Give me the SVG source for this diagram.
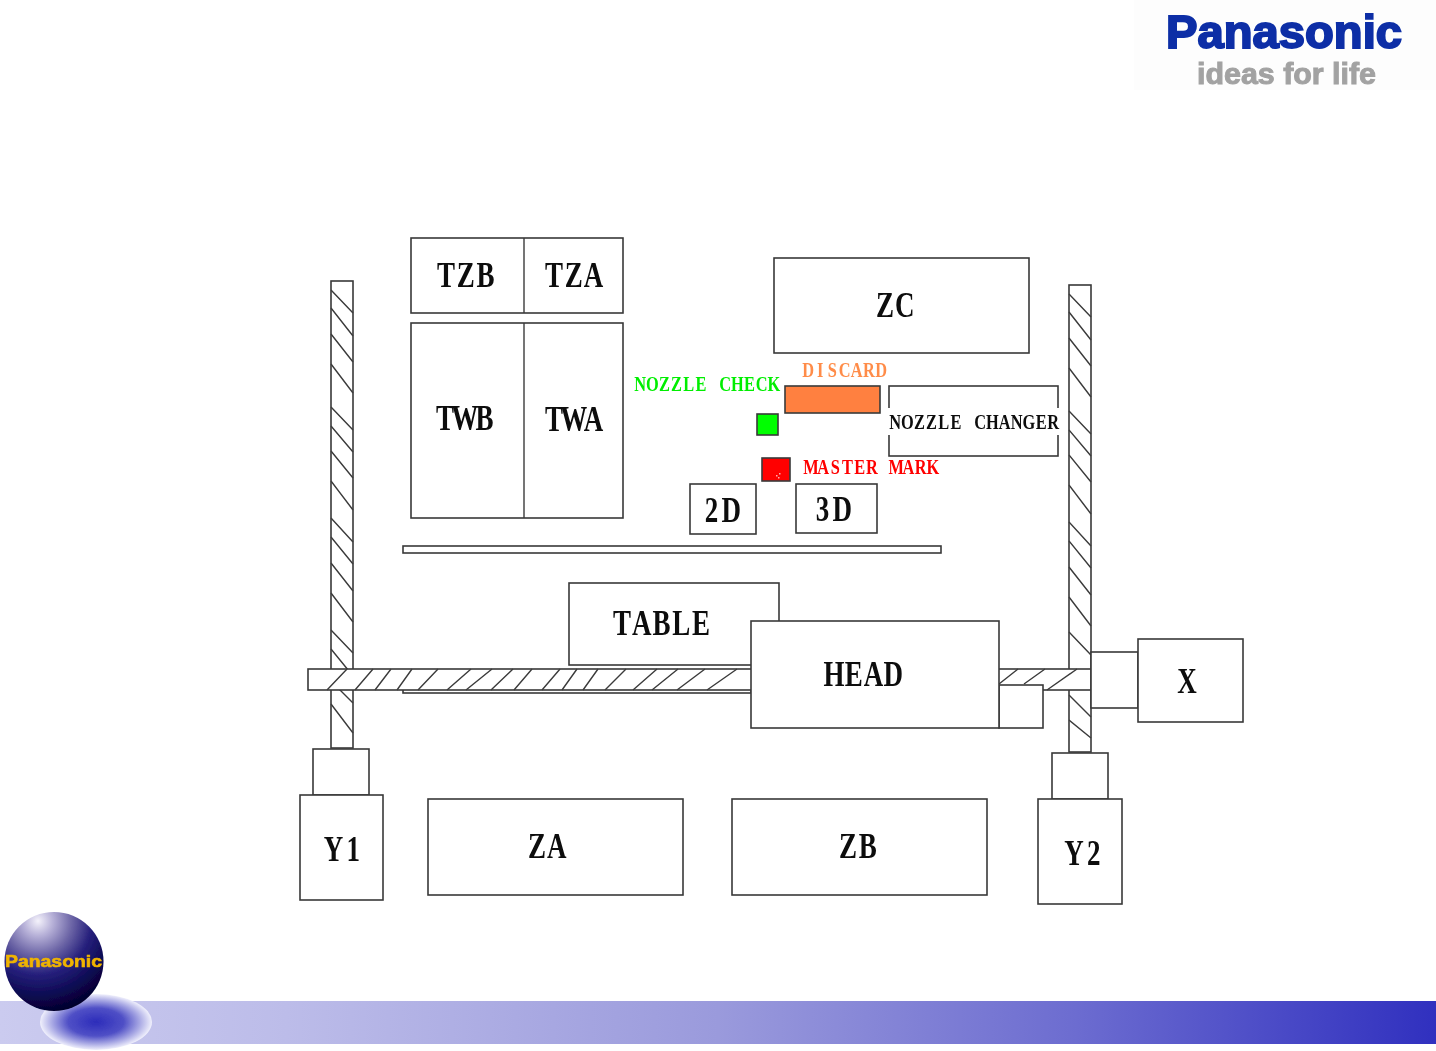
<svg xmlns="http://www.w3.org/2000/svg" width="1436" height="1051" viewBox="0 0 1436 1051">
<style>
.b{fill:#fff;stroke:#3a3a3a;stroke-width:1.6}
.h{fill:none;stroke:#3a3a3a;stroke-width:1.4}
.t{font-family:"Liberation Serif",serif;font-weight:bold;font-size:36px;fill:#0a0a0a;text-anchor:middle}
.s{font-family:"Liberation Serif",serif;font-weight:bold;font-size:21px;text-anchor:middle}
</style>
<defs>
<filter id="soft" x="0" y="0" width="1436" height="1051" filterUnits="userSpaceOnUse"><feGaussianBlur stdDeviation="0.4"/></filter>
<filter id="soft2" x="0" y="0" width="1436" height="1051" filterUnits="userSpaceOnUse"><feGaussianBlur stdDeviation="0.7"/></filter>
<linearGradient id="band" x1="0" x2="1" y1="0" y2="0"><stop offset="0" stop-color="#cbcbef"/><stop offset="0.2" stop-color="#bcbce9"/><stop offset="0.5" stop-color="#9a9adc"/><stop offset="0.75" stop-color="#6c6cd0"/><stop offset="1" stop-color="#3030bf"/></linearGradient>
<radialGradient id="sph" gradientUnits="userSpaceOnUse" cx="38" cy="921" r="92" fx="38" fy="921"><stop offset="0" stop-color="#f4f2fb"/><stop offset="0.16" stop-color="#b7b1d8"/><stop offset="0.36" stop-color="#6f68a8"/><stop offset="0.58" stop-color="#26207c"/><stop offset="0.82" stop-color="#0b0850"/><stop offset="1" stop-color="#04022c"/></radialGradient>
<radialGradient id="shd"><stop offset="0" stop-color="#2c2cba"/><stop offset="0.5" stop-color="#5050c6"/><stop offset="0.78" stop-color="#a8a8e4"/><stop offset="1" stop-color="#f0f0fc"/></radialGradient>
</defs>
<rect width="1436" height="1051" fill="#fff"/>
<rect id="band-rect" x="0" y="1001" width="1436" height="43" fill="url(#band)"/>
<g id="diagram" filter="url(#soft)">
<g id="rail-left">
<rect class="b" x="331" y="281" width="22" height="467"/>
<path class="h" d="M331 290L353 313M331 308L353 336M331 334L353 362M331 364L353 393M331 407L353 430M331 426L353 452M331 451L353 478M331 481L353 510M331 518L353 542M331 537L353 564M331 563L353 591M331 593L353 622M331 630L353 653M331 649L353 676M331 681L353 703M331 704L353 733"/>
</g>
<g id="rail-right">
<rect class="b" x="1069" y="285" width="22" height="467"/>
<path class="h" d="M1069 294L1091 317M1069 312L1091 340M1069 338L1091 366M1069 368L1091 397M1069 411L1091 434M1069 430L1091 456M1069 455L1091 482M1069 485L1091 514M1069 522L1091 546M1069 541L1091 568M1069 567L1091 595M1069 597L1091 626M1069 632L1091 655M1069 695L1091 717M1069 720L1091 738"/>
</g>
<g id="plate-top"><rect class="b" x="403" y="546" width="538" height="7"/></g>
<g id="plate-low"><rect class="b" x="403" y="688" width="348" height="5"/></g>
<g id="table"><rect class="b" x="569" y="583" width="210" height="82"/><text class="t" transform="translate(612,635) scale(.75,1)" x="13.2 39.6 66 92.4 118.8">TABLE</text></g>
<g id="rail-x">
<rect class="b" x="308" y="669" width="783" height="21"/>
<path class="h" d="M327 690L347 669M355 690L373 669M375 690L391 669M397 690L412 669M418 690L438 669M447 690L471 669M466 690L492 669M491 690L513 669M514 690L532 669M542 690L560 669M562 690L577 669M583 690L598 669M605 690L626 669M633 690L657 669M652 690L678 669M677 690L705 669M707 690L737 669M999 684L1018 669M1024 684L1045 669M1047 690L1077 669"/>
</g>
<g id="tz">
<rect class="b" x="411" y="238" width="212" height="75"/>
<line class="h" x1="524" y1="238" x2="524" y2="313"/>
<text class="t" transform="translate(436,287) scale(.75,1)" x="13.2 39.6 66">TZB</text>
<text class="t" transform="translate(544,287) scale(.75,1)" x="13.2 39.6 66">TZA</text>
</g>
<g id="tw">
<rect class="b" x="411" y="323" width="212" height="195"/>
<line class="h" x1="524" y1="323" x2="524" y2="518"/>
<text class="t" transform="translate(435,430) scale(.75,1)" x="13.2 39.6 66">TWB</text>
<text class="t" transform="translate(544,431) scale(.75,1)" x="13.2 39.6 66">TWA</text>
</g>
<g id="zc"><rect class="b" x="774" y="258" width="255" height="95"/><text class="t" transform="translate(875,317) scale(.75,1)" x="13.2 39.6">ZC</text></g>
<g id="nozzle-check">
<text class="s" transform="translate(634,391) scale(.78,1)" fill="#00ee00" x="7.8 23.4 39 54.6 70.2 85.8 101.4 117 132.6 148.2 163.8 179.4">NOZZLE CHECK</text>
<rect x="757" y="414" width="21" height="21" fill="#00ff00" stroke="#3a3a3a" stroke-width="1.6"/>
</g>
<g id="discard">
<text class="s" transform="translate(802,377) scale(.78,1)" fill="#ff8c48" x="7.8 23.4 39 54.6 70.2 85.8 101.4">DISCARD</text>
<rect x="785" y="386" width="95" height="27" fill="#ff8040" stroke="#3a3a3a" stroke-width="1.6"/>
</g>
<g id="nozzle-changer">
<rect class="b" x="889" y="386" width="169" height="70"/>
<rect x="885" y="408" width="178" height="27" fill="#fff"/>
<text class="s" transform="translate(889,429) scale(.78,1)" fill="#0a0a0a" x="7.8 23.4 39 54.6 70.2 85.8 101.4 117 132.6 148.2 163.8 179.4 195 210.6">NOZZLE CHANGER</text>
</g>
<g id="master-mark">
<rect x="762" y="458" width="28" height="23" fill="#ff0000" stroke="#3a3a3a" stroke-width="1.6"/>
<path d="M776 475h1.5v1.5h-1.5zM779 473h1.5v1.5h-1.5zM778 477h1.5v1.5h-1.5z" fill="#ffb0b0"/>
<text class="s" transform="translate(805,474) scale(.78,1)" fill="#ff0000" x="7.8 23.4 39 54.6 70.2 85.8 101.4 117 132.6 148.2 163.8">MASTER MARK</text>
</g>
<g id="n2d"><rect class="b" x="690" y="484" width="66" height="50"/><text class="t" transform="translate(701.5,522) scale(.75,1)" x="13.2 39.6">2D</text></g>
<g id="n3d"><rect class="b" x="796" y="484" width="81" height="49"/><text class="t" transform="translate(812.5,521) scale(.75,1)" x="13.2 39.6">3D</text></g>
<g id="head-aux"><rect class="b" x="999" y="685" width="44" height="43"/></g>
<g id="head"><rect class="b" x="751" y="621" width="248" height="107"/><text class="t" transform="translate(824,686) scale(.75,1)" x="13.2 39.6 66 92.4">HEAD</text></g>
<g id="connectors">
<rect class="b" x="1091" y="652" width="47" height="56"/>
<rect class="b" x="313" y="749" width="56" height="46"/>
<rect class="b" x="1052" y="753" width="56" height="46"/>
</g>
<g id="x"><rect class="b" x="1138" y="639" width="105" height="83"/><text class="t" transform="translate(1177,693) scale(.75,1)" x="13.2">X</text></g>
<g id="y1"><rect class="b" x="300" y="795" width="83" height="105"/><text class="t" transform="translate(323.5,861) scale(.75,1)" x="13.2 39.6">Y1</text></g>
<g id="y2"><rect class="b" x="1038" y="799" width="84" height="105"/><text class="t" transform="translate(1064,865) scale(.75,1)" x="13.2 39.6">Y2</text></g>
<g id="za"><rect class="b" x="428" y="799" width="255" height="96"/><text class="t" transform="translate(527,858) scale(.75,1)" x="13.2 39.6">ZA</text></g>
<g id="zb"><rect class="b" x="732" y="799" width="255" height="96"/><text class="t" transform="translate(838,858) scale(.75,1)" x="13.2 39.6">ZB</text></g>
</g>
<g id="logo" filter="url(#soft2)">
<rect x="1134" y="0" width="302" height="90" fill="#fdfdfd"/>
<text x="1166" y="48" font-family="'Liberation Sans',sans-serif" font-weight="bold" font-size="46" fill="#0b2fa6" stroke="#0b2fa6" stroke-width="2" textLength="236" lengthAdjust="spacingAndGlyphs">Panasonic</text>
<text x="1197" y="84" font-family="'Liberation Sans',sans-serif" font-weight="bold" font-size="30" fill="#a2a2a2" stroke="#a2a2a2" stroke-width="1" textLength="179" lengthAdjust="spacingAndGlyphs">ideas for life</text>
</g>
<g id="globe" filter="url(#soft2)">
<ellipse cx="96" cy="1022" rx="56" ry="28" fill="url(#shd)"/>
<circle cx="54" cy="961.5" r="49.5" fill="url(#sph)"/>
<text x="5" y="967" font-family="'Liberation Sans',sans-serif" font-weight="bold" font-size="17" fill="#f0b400" stroke="#f0b400" stroke-width="0.6" textLength="97" lengthAdjust="spacingAndGlyphs">Panasonic</text>
</g>
</svg>
